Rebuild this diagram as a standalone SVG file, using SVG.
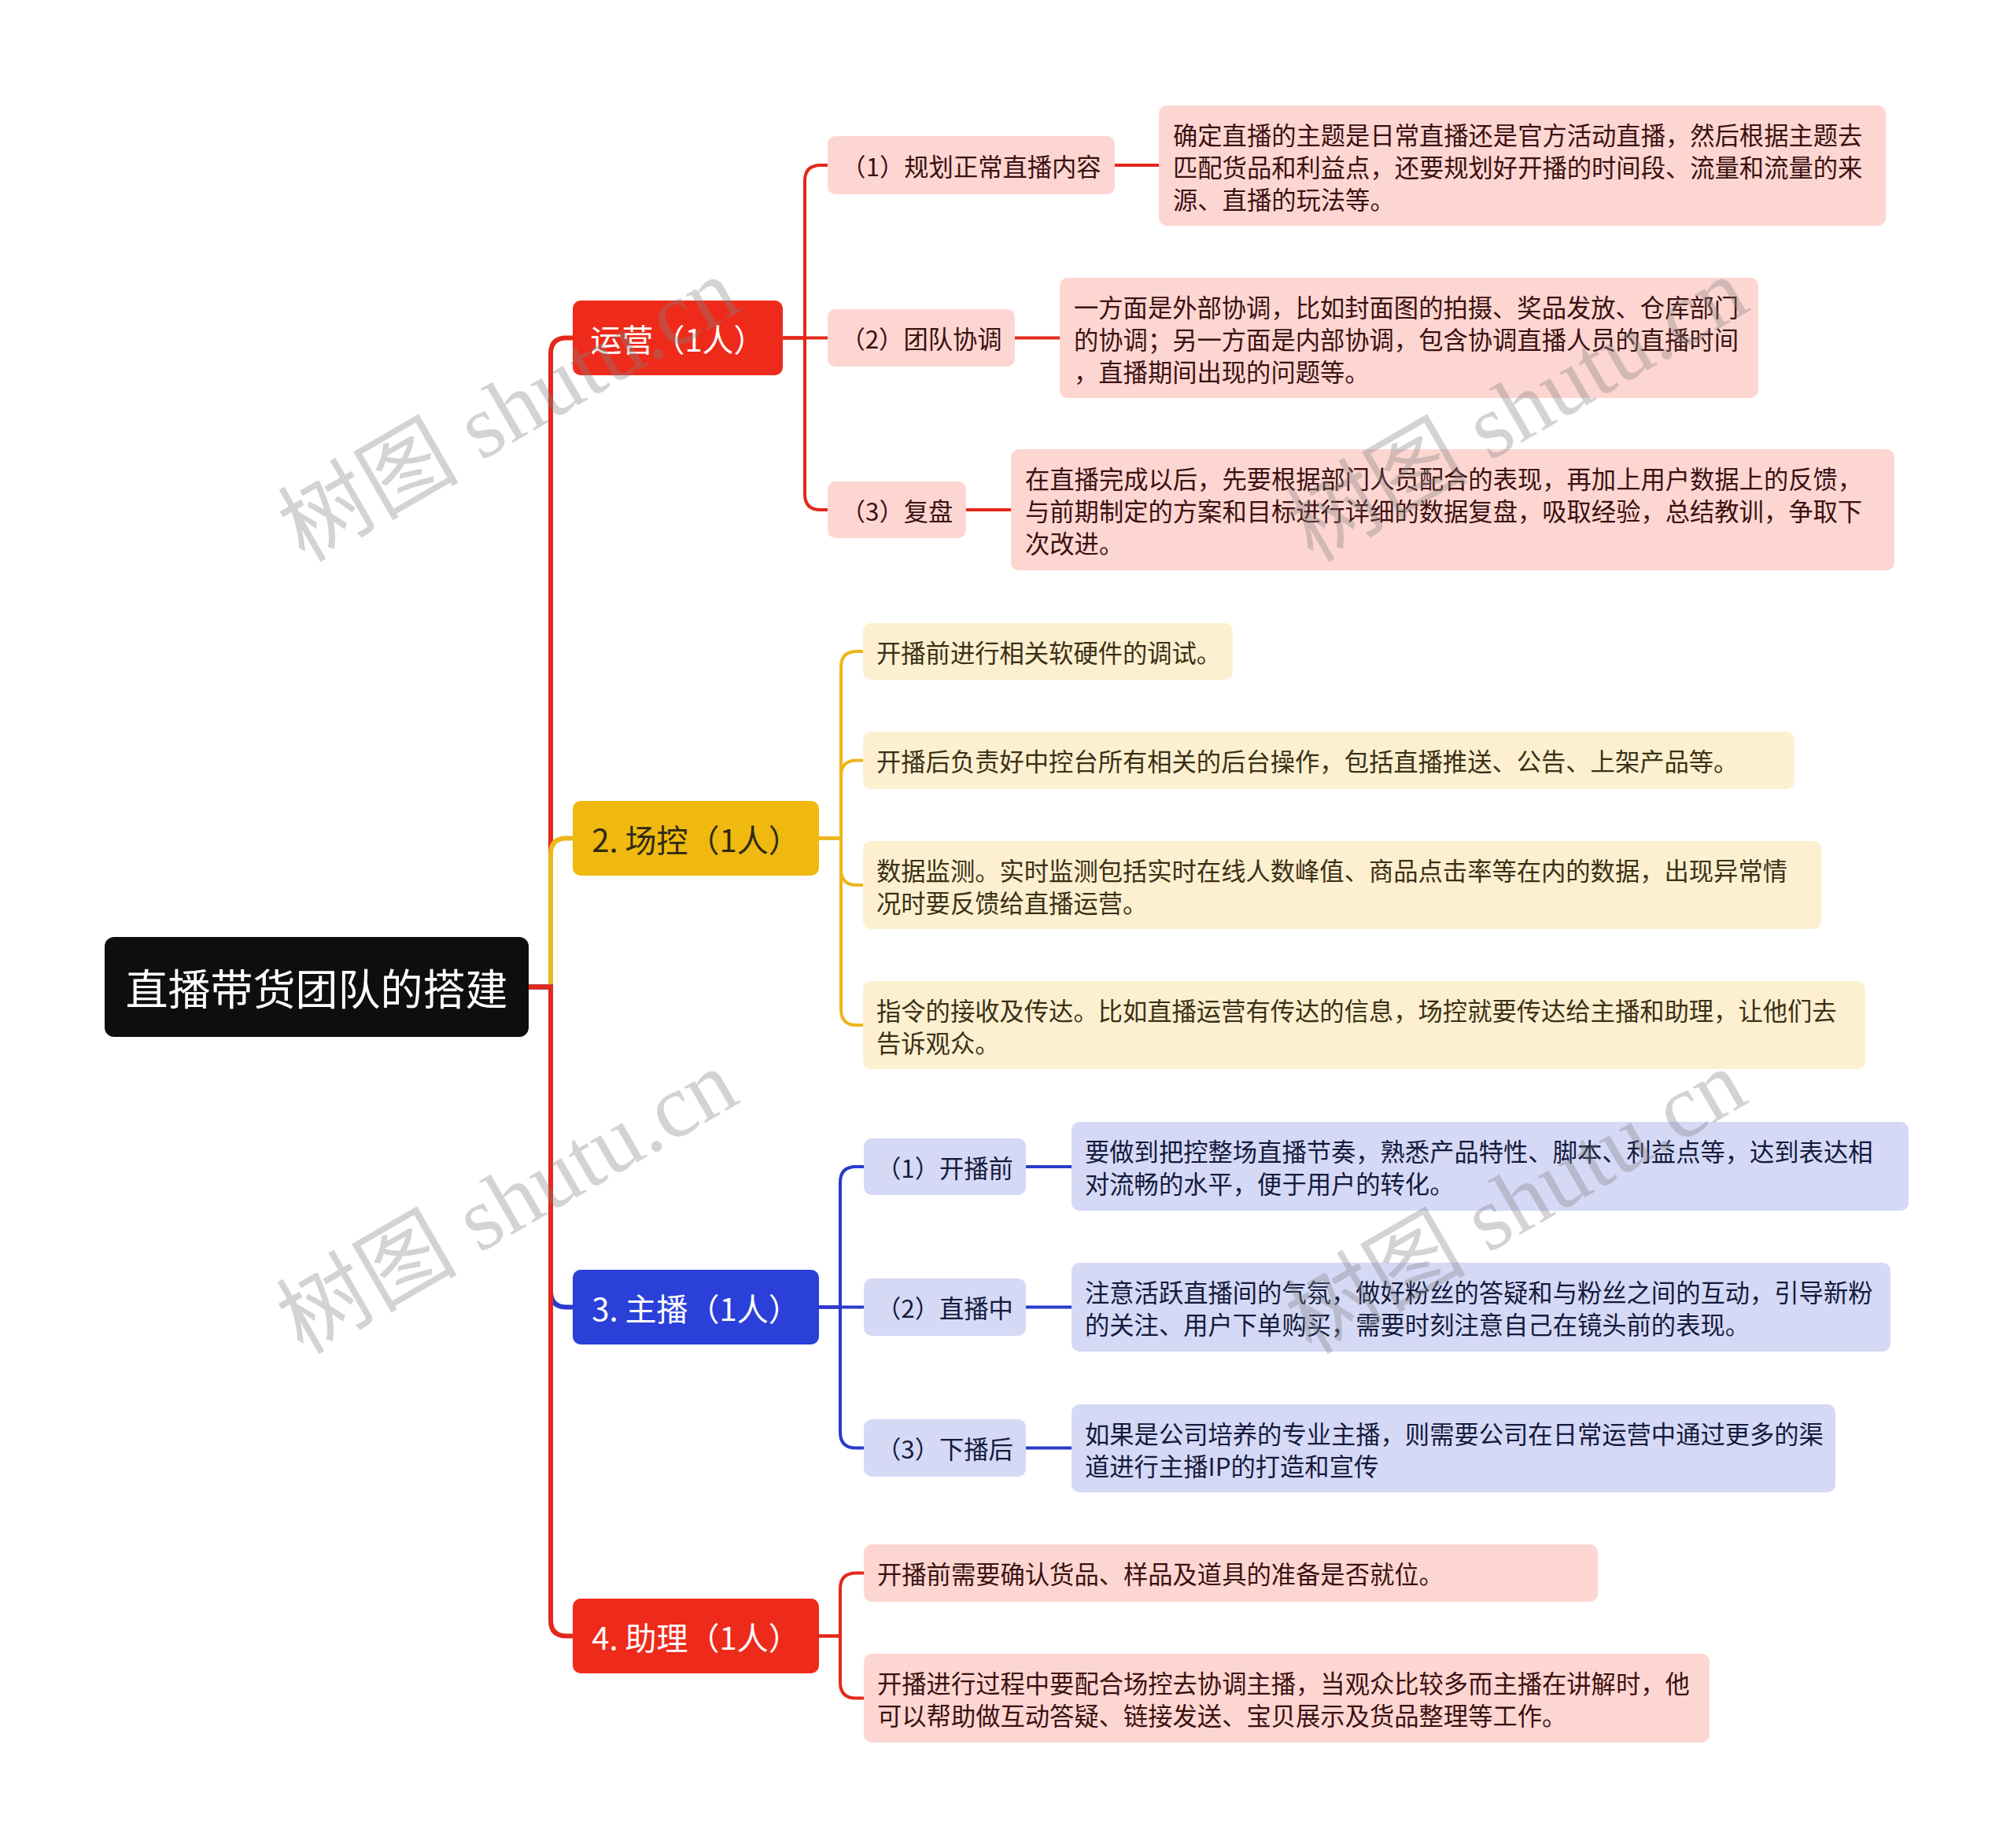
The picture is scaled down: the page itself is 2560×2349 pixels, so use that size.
<svg xmlns="http://www.w3.org/2000/svg" width="2560" height="2349" viewBox="0 0 2560 2349">
<style>
text{font-family:"Noto Sans CJK SC","Noto Sans",sans-serif;dominant-baseline:central}
.root{fill:#0e0e0e}
.rootT{fill:#fff;font-size:54px;text-anchor:middle}
.l1r{fill:#ee2b1b}.l1y{fill:#efb90f}.l1b{fill:#2a40d8}
.l1T{fill:#fff;font-size:40px;text-anchor:middle}
.l1Td{fill:#2e2912;font-size:40px;text-anchor:middle}
.pr{fill:#fdd6d2}.py{fill:#fdf0d0}.pb{fill:#d5d9f6}
.tr{fill:#3c1010;font-size:31.3px}
.ty{fill:#3b3016;font-size:31.3px}
.tb{fill:#141a3c;font-size:31.3px}
.mid{text-anchor:middle}
.cr{fill:none;stroke:#e3281b}.cy{fill:none;stroke:#ecb61c}.cb{fill:none;stroke:#2a3bc9}
.w1{stroke-width:6}.w2{stroke-width:4}
.wm{font-family:"Liberation Serif","Noto Sans CJK SC",serif;font-size:115px;fill:#808080;fill-opacity:0.35;text-anchor:middle}
</style>
<rect width="2560" height="2349" fill="#ffffff"/>
<g id="connectors">
  <path class="cr w1" d="M672,1254.5 H700 V449.5 Q700,429.5 720,429.5 H728"/>
  <path class="cy w1" d="M672,1254.5 H700 V1085.5 Q700,1065.5 720,1065.5 H728"/>
  <path class="cb w1" d="M672,1254.5 H700 V1641.5 Q700,1661.5 720,1661.5 H728"/>
  <path class="cr w1" d="M672,1254.5 H700 V2059.5 Q700,2079.5 720,2079.5 H728"/>
  <path class="cr w2" d="M995,429.5 H1023 V230 Q1023,210 1043,210 H1052"/>
  <path class="cr w2" d="M995,429.5 H1052"/>
  <path class="cr w2" d="M995,429.5 H1023 V628 Q1023,648 1043,648 H1052"/>
  <path class="cr w2" d="M1417,210 H1473"/>
  <path class="cr w2" d="M1290,429.5 H1347"/>
  <path class="cr w2" d="M1228,648 H1285"/>
  <path class="cy w2" d="M1041,1065.5 H1069 V848 Q1069,828 1089,828 H1097"/>
  <path class="cy w2" d="M1041,1065.5 H1069 V986.5 Q1069,966.5 1089,966.5 H1097"/>
  <path class="cy w2" d="M1041,1065.5 H1069 V1105 Q1069,1125 1089,1125 H1097"/>
  <path class="cy w2" d="M1041,1065.5 H1069 V1283 Q1069,1303 1089,1303 H1097"/>
  <path class="cb w2" d="M1041,1661.5 H1068 V1503 Q1068,1483 1088,1483 H1098"/>
  <path class="cb w2" d="M1041,1661.5 H1098"/>
  <path class="cb w2" d="M1041,1661.5 H1068 V1820.5 Q1068,1840.5 1088,1840.5 H1098"/>
  <path class="cb w2" d="M1304,1483 H1362"/>
  <path class="cb w2" d="M1304,1661.5 H1362"/>
  <path class="cb w2" d="M1304,1840.5 H1362"/>
  <path class="cr w2" d="M1041,2079.5 H1068 V2019.5 Q1068,1999.5 1088,1999.5 H1098"/>
  <path class="cr w2" d="M1041,2079.5 H1068 V2138.5 Q1068,2158.5 1088,2158.5 H1098"/>
</g>
<g id="root">
  <rect class="root" x="133" y="1191" width="539" height="127" rx="12"/>
  <text class="rootT" x="402.5" y="1254.5">直播带货团队的搭建</text>
</g>
<g id="n-yunying">
  <rect class="l1r" x="728" y="382" width="267" height="95" rx="10"/>
  <text class="l1T" x="861.5" y="429.5">运营（1人）</text>
</g>
<g id="n-yy1">
  <rect class="pr" x="1052" y="173" width="365" height="74" rx="10"/>
  <text class="tr mid" x="1234.5" y="210">（1）规划正常直播内容</text>
</g>
<g id="n-yy1d">
  <rect class="pr" x="1473" y="134" width="924" height="153" rx="10"/>
  <text class="tr" x="1491"><tspan x="1491" y="169.5">确定直播的主题是日常直播还是官方活动直播，然后根据主题去</tspan><tspan x="1491" y="210.5">匹配货品和利益点，还要规划好开播的时间段、流量和流量的来</tspan><tspan x="1491" y="251.5">源、直播的玩法等。</tspan></text>
</g>
<g id="n-yy2">
  <rect class="pr" x="1052" y="393" width="238" height="73" rx="10"/>
  <text class="tr mid" x="1171" y="429.5">（2）团队协调</text>
</g>
<g id="n-yy2d">
  <rect class="pr" x="1347" y="353" width="888" height="153" rx="10"/>
  <text class="tr" x="1365"><tspan x="1365" y="388.5">一方面是外部协调，比如封面图的拍摄、奖品发放、仓库部门</tspan><tspan x="1365" y="429.5">的协调；另一方面是内部协调，包含协调直播人员的直播时间</tspan><tspan x="1365" y="470.5">，直播期间出现的问题等。</tspan></text>
</g>
<g id="n-yy3">
  <rect class="pr" x="1052" y="612" width="176" height="72" rx="10"/>
  <text class="tr mid" x="1140" y="648">（3）复盘</text>
</g>
<g id="n-yy3d">
  <rect class="pr" x="1285" y="571" width="1123" height="154" rx="10"/>
  <text class="tr" x="1303"><tspan x="1303" y="607">在直播完成以后，先要根据部门人员配合的表现，再加上用户数据上的反馈，</tspan><tspan x="1303" y="648">与前期制定的方案和目标进行详细的数据复盘，吸取经验，总结教训，争取下</tspan><tspan x="1303" y="689">次改进。</tspan></text>
</g>
<g id="n-changkong">
  <rect class="l1y" x="728" y="1018" width="313" height="95" rx="10"/>
  <text class="l1Td" x="884.5" y="1065.5">2. 场控（1人）</text>
</g>
<g id="n-ck1">
  <rect class="py" x="1097" y="792" width="470" height="72" rx="10"/>
  <text class="ty" x="1114" y="828">开播前进行相关软硬件的调试。</text>
</g>
<g id="n-ck2">
  <rect class="py" x="1097" y="930" width="1184" height="73" rx="10"/>
  <text class="ty" x="1114" y="966.5">开播后负责好中控台所有相关的后台操作，包括直播推送、公告、上架产品等。</text>
</g>
<g id="n-ck3">
  <rect class="py" x="1097" y="1069" width="1218" height="112" rx="10"/>
  <text class="ty" x="1114"><tspan x="1114" y="1104.5">数据监测。实时监测包括实时在线人数峰值、商品点击率等在内的数据，出现异常情</tspan><tspan x="1114" y="1145.5">况时要反馈给直播运营。</tspan></text>
</g>
<g id="n-ck4">
  <rect class="py" x="1097" y="1247" width="1274" height="112" rx="10"/>
  <text class="ty" x="1114"><tspan x="1114" y="1282.5">指令的接收及传达。比如直播运营有传达的信息，场控就要传达给主播和助理，让他们去</tspan><tspan x="1114" y="1323.5">告诉观众。</tspan></text>
</g>
<g id="n-zhubo">
  <rect class="l1b" x="728" y="1614" width="313" height="95" rx="10"/>
  <text class="l1T" x="884.5" y="1661.5">3. 主播（1人）</text>
</g>
<g id="n-zb1">
  <rect class="pb" x="1098" y="1447" width="206" height="72" rx="10"/>
  <text class="tb mid" x="1201" y="1483">（1）开播前</text>
</g>
<g id="n-zb1d">
  <rect class="pb" x="1362" y="1426" width="1064" height="113" rx="10"/>
  <text class="tb" x="1379"><tspan x="1379" y="1462">要做到把控整场直播节奏，熟悉产品特性、脚本、利益点等，达到表达相</tspan><tspan x="1379" y="1503">对流畅的水平，便于用户的转化。</tspan></text>
</g>
<g id="n-zb2">
  <rect class="pb" x="1098" y="1625" width="206" height="73" rx="10"/>
  <text class="tb mid" x="1201" y="1661.5">（2）直播中</text>
</g>
<g id="n-zb2d">
  <rect class="pb" x="1362" y="1605" width="1041" height="113" rx="10"/>
  <text class="tb" x="1379"><tspan x="1379" y="1641">注意活跃直播间的气氛，做好粉丝的答疑和与粉丝之间的互动，引导新粉</tspan><tspan x="1379" y="1682">的关注、用户下单购买，需要时刻注意自己在镜头前的表现。</tspan></text>
</g>
<g id="n-zb3">
  <rect class="pb" x="1098" y="1804" width="206" height="73" rx="10"/>
  <text class="tb mid" x="1201" y="1840.5">（3）下播后</text>
</g>
<g id="n-zb3d">
  <rect class="pb" x="1362" y="1785" width="971" height="112" rx="10"/>
  <text class="tb" x="1379"><tspan x="1379" y="1820.5">如果是公司培养的专业主播，则需要公司在日常运营中通过更多的渠</tspan><tspan x="1379" y="1861.5">道进行主播IP的打造和宣传</tspan></text>
</g>
<g id="n-zhuli">
  <rect class="l1r" x="728" y="2032" width="313" height="95" rx="10"/>
  <text class="l1T" x="884.5" y="2079.5">4. 助理（1人）</text>
</g>
<g id="n-zl1">
  <rect class="pr" x="1098" y="1963" width="933" height="73" rx="10"/>
  <text class="tr" x="1115" y="1999.5">开播前需要确认货品、样品及道具的准备是否就位。</text>
</g>
<g id="n-zl2">
  <rect class="pr" x="1098" y="2102" width="1075" height="113" rx="10"/>
  <text class="tr" x="1115"><tspan x="1115" y="2138">开播进行过程中要配合场控去协调主播，当观众比较多而主播在讲解时，他</tspan><tspan x="1115" y="2179">可以帮助做互动答疑、链接发送、宝贝展示及货品整理等工作。</tspan></text>
</g>
<g id="watermarks">
  <text class="wm" transform="translate(647,521) rotate(-30)" x="0" y="0">树图 shutu.cn</text>
  <text class="wm" transform="translate(1929,521) rotate(-30)" x="0" y="0">树图 shutu.cn</text>
  <text class="wm" transform="translate(645,1528) rotate(-30)" x="0" y="0">树图 shutu.cn</text>
  <text class="wm" transform="translate(1927,1528) rotate(-30)" x="0" y="0">树图 shutu.cn</text>
</g>
</svg>
